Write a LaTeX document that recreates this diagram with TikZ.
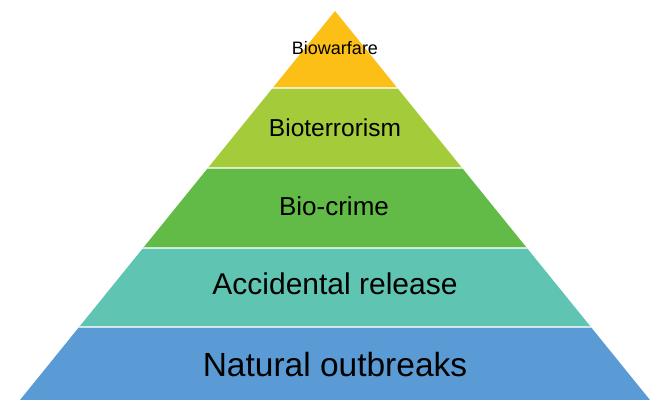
\documentclass[tikz,border=0pt]{standalone}
\usepackage{fontspec}
\setmainfont{Liberation Sans}
\definecolor{cgold}{RGB}{252,191,22}
\definecolor{clime}{RGB}{164,204,58}
\definecolor{cgreen}{RGB}{98,187,71}
\definecolor{cteal}{RGB}{96,196,178}
\definecolor{cblue}{RGB}{91,155,213}
\tikzset{lab/.style={anchor=base,inner sep=0pt,text=black},
  sep/.style={draw=white,line width=1.2pt,opacity=0.7}}
\begin{document}
\begin{tikzpicture}[x=1pt,y=1pt]
\useasboundingbox (0,0) rectangle (656,400);
\coordinate (apex) at (335,389);
\coordinate (bl) at (20,0);
\coordinate (br) at (650,0);
\begin{scope}
\clip (apex) -- (br) -- (bl) -- cycle;
\fill[cblue] (0,0) rectangle (656,73);
\fill[cteal] (0,73) rectangle (656,152);
\fill[cgreen] (0,152) rectangle (656,232);
\fill[clime] (0,232) rectangle (656,312);
\fill[cgold] (0,312) rectangle (656,400);
\draw[sep] (0,73) -- (656,73);
\draw[sep] (0,152) -- (656,152);
\draw[sep] (0,232) -- (656,232);
\draw[sep] (0,312) -- (656,312);
\end{scope}
\node[lab,font=\fontsize{18}{20}\selectfont] (l1) at (335,345) {Biowarfare};
\node[lab,font=\fontsize{24.5}{28}\selectfont] (l2) at (335,264) {Bioterrorism};
\node[lab,font=\fontsize{26}{30}\selectfont] (l3) at (334,185) {Bio-crime};
\node[lab,font=\fontsize{30}{34}\selectfont] (l4) at (335,106) {Accidental release};
\node[lab,font=\fontsize{33.5}{38}\selectfont] (l5) at (335,24) {Natural outbreaks};
\end{tikzpicture}
\end{document}
